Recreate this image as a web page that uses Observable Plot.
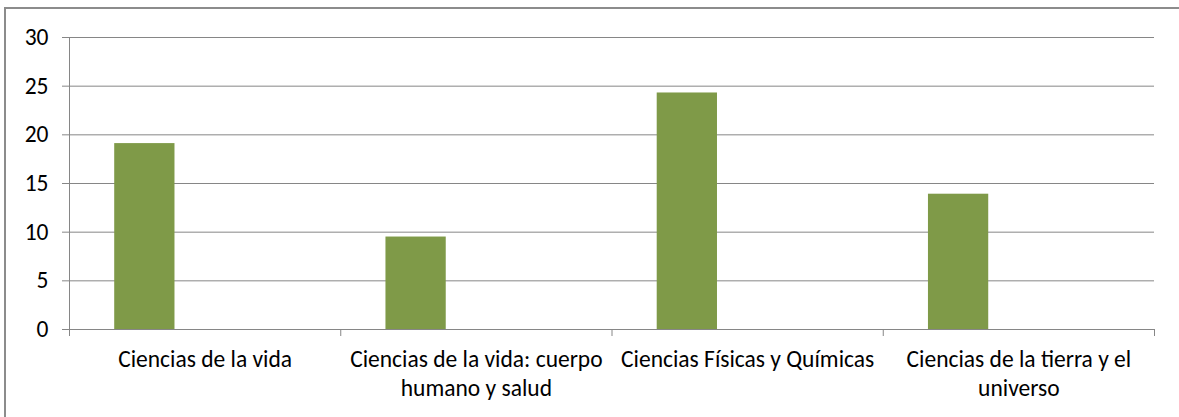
<!DOCTYPE html>
<html><head><meta charset="utf-8">
<script src="https://cdn.jsdelivr.net/npm/d3@7"></script>
<script src="https://cdn.jsdelivr.net/npm/@observablehq/plot@0.6"></script>
<style>
body{margin:0;background:#fff;}
#wrap{position:relative;width:1179px;height:417px;overflow:hidden;background:#fff;}
#wrap svg{position:absolute;left:0;top:0;}
#border{position:absolute;left:4px;top:7px;width:1300px;height:500px;border-left:2px solid #8c8c8c;border-top:2px solid #8c8c8c;z-index:2;}
</style></head><body><div id="wrap"><div id="border"></div></div>
<script>
const categories = ["Ciencias de la vida", "Ciencias de la vida: cuerpo humano y salud", "Ciencias Físicas y Químicas", "Ciencias de la tierra y el universo"];
const tickLabels = ["Ciencias de la vida", "Ciencias de la vida: cuerpo\nhumano y salud", "Ciencias Físicas y Químicas", "Ciencias de la tierra y el\nuniverso"];
const values = [19.1, 9.5, 24.3, 13.9];
const yTicks = [0, 5, 10, 15, 20, 25, 30];

// Excel-like clustered layout: 3 series slots, gap width 150%, this series in slot 0
const seriesCount = 3, gapWidth = 1.5, slot = 0;
const data = categories.map((c, i) => ({i, category: c, value: values[i]}));
const grey = "#868686";

const chart = Plot.plot({
  width: 1179, height: 417,
  marginLeft: 69, marginRight: 25, marginTop: 37, marginBottom: 88,
  style: {fontFamily: "Carlito, Calibri, Lato, sans-serif", fontSize: "23.5px", color: "#000", background: "transparent"},
  x: {domain: [0, categories.length]},
  y: {domain: [0, 30]},
  marks: [
    Plot.gridY(yTicks, {stroke: grey, strokeOpacity: 1}),
    Plot.axisY(yTicks, {tickSize: 7, tickPadding: 14, stroke: grey, fill: "#000", label: null}),
    Plot.rectY(data, {
      x1: d => d.i + (gapWidth / 2 + slot) / (seriesCount + gapWidth),
      x2: d => d.i + (gapWidth / 2 + slot + 1) / (seriesCount + gapWidth),
      y1: 0, y2: "value", fill: "#7f9a48"
    }),
    Plot.ruleY([0], {stroke: grey}),
    Plot.ruleX([0], {stroke: grey}),
    Plot.axisX(d3.range(categories.length + 1), {tickSize: 7, tickFormat: () => "", stroke: grey, label: null}),
    Plot.axisX(categories.map((c, i) => i + 0.5), {tickSize: 0, tickPadding: 17, tickFormat: d => tickLabels[Math.floor(d)], lineHeight: 1.234, fill: "#000", label: null})
  ]
});
document.getElementById("wrap").appendChild(chart);
</script>
</body></html>
